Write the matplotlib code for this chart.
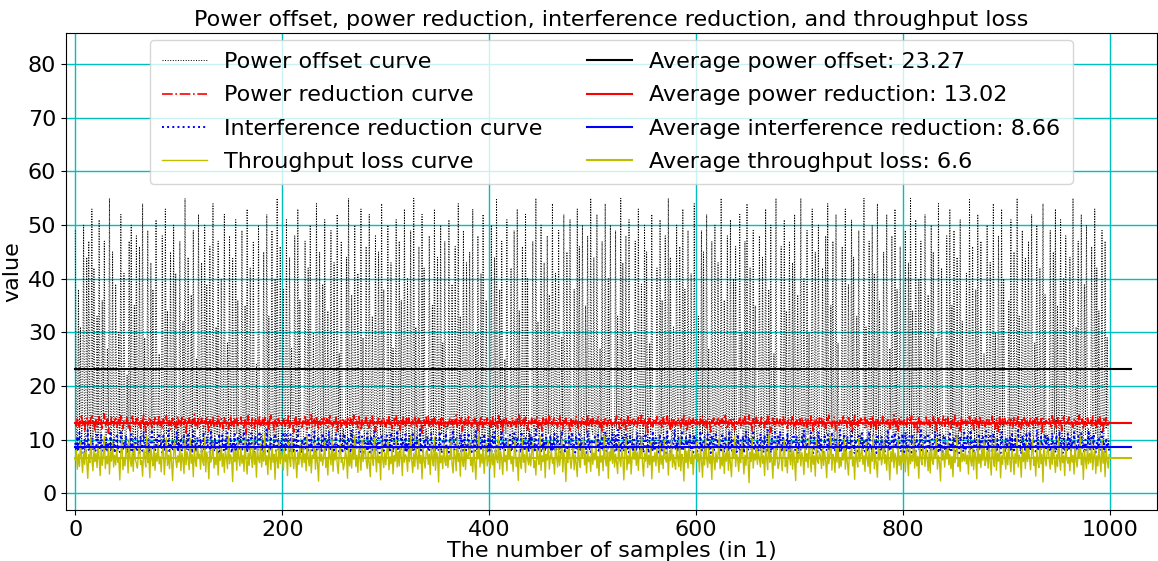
import matplotlib
matplotlib.use("Agg")
import matplotlib.pyplot as plt

power_offset = [
49,12,8,38,10,31,9,14,50,7,11,44,9,47,13,10,53,8,42,12,
10,33,9,51,11,8,36,13,47,10,9,27,12,55,8,11,45,9,10,39,
14,8,30,11,52,9,13,41,10,8,22,12,47,9,50,11,7,35,10,48,
9,13,46,8,11,54,10,29,9,12,49,7,10,43,11,38,8,14,51,9,
12,26,10,9,48,13,8,53,11,34,9,10,45,12,8,50,10,41,9,13,
8,47,11,10,32,9,55,12,8,44,10,13,37,9,49,11,8,25,12,52,
10,9,43,12,8,50,11,39,9,14,46,8,10,54,12,9,31,11,47,8,
13,40,9,11,52,8,10,28,12,48,9,13,44,10,8,51,11,36,9,12,
9,49,10,12,35,8,53,11,9,42,13,10,47,8,11,24,9,50,12,10,
11,8,45,9,13,52,10,33,8,12,49,11,9,40,10,55,8,13,46,9,
12,38,10,8,51,11,9,44,13,27,8,10,48,12,9,53,11,36,8,10,
9,13,47,10,8,42,12,50,9,11,30,8,14,54,10,9,45,12,8,39,
10,51,9,12,34,8,11,49,10,13,43,9,8,52,11,26,10,47,9,12,
8,11,44,9,55,12,10,37,8,13,50,9,11,41,10,8,53,12,29,9,
13,46,8,10,52,9,12,33,11,8,48,10,9,45,13,11,54,8,38,10,
9,12,50,11,8,43,10,27,9,13,51,8,11,47,10,36,9,12,53,8,
11,40,9,10,49,12,8,55,10,31,9,13,46,8,11,52,10,42,9,12,
10,8,48,13,9,35,11,53,8,10,44,12,9,50,11,28,8,47,10,13,
12,51,10,8,39,11,9,46,13,8,54,10,33,9,12,49,8,11,43,10,
8,45,12,10,53,9,11,30,8,48,10,13,41,9,52,11,8,36,12,9,
13,9,50,10,12,44,8,55,11,9,38,10,47,12,8,25,11,51,9,10,
10,42,8,13,49,11,9,53,10,34,12,8,46,9,11,52,10,40,8,12,
9,12,47,10,8,55,11,32,9,13,50,10,8,43,12,9,48,11,37,8,
12,54,9,11,41,8,10,49,13,9,29,11,52,8,10,45,12,9,51,10,
8,10,38,12,9,53,11,46,8,10,50,13,9,35,11,48,10,8,55,12,
11,44,10,8,52,9,13,27,10,47,8,12,54,11,9,40,10,50,8,13,
10,9,49,12,33,8,11,55,10,43,9,12,48,8,11,51,10,30,9,12,
13,47,8,10,53,11,9,39,12,8,50,10,45,9,13,28,11,52,8,10,
9,12,42,10,8,51,11,36,9,13,48,10,8,55,12,44,9,11,31,10,
11,50,9,12,46,8,10,53,11,38,9,12,49,10,8,41,13,9,54,11,
8,10,33,12,9,49,11,45,8,13,52,10,27,9,11,47,12,8,50,10,
12,43,10,8,55,11,9,36,13,10,48,8,11,51,9,12,40,10,46,8,
10,9,52,12,30,11,8,47,10,54,9,13,42,8,11,49,10,35,12,9,
13,48,8,10,44,12,9,53,11,8,38,10,50,9,12,26,11,55,8,10,
9,11,46,10,8,51,13,34,9,12,47,10,8,43,11,52,9,12,37,8,
11,55,10,9,40,12,8,49,11,30,9,13,53,10,8,45,12,9,50,11,
8,10,42,13,9,48,11,54,8,10,35,12,47,9,11,52,10,28,8,12,
12,46,9,11,53,8,10,39,12,9,51,11,44,8,13,33,10,49,9,11,
10,8,55,12,31,9,11,47,10,13,50,8,41,12,9,54,10,36,11,8,
13,45,10,9,52,11,8,27,12,48,10,9,53,11,38,8,12,46,10,9,
9,12,49,8,10,43,11,55,9,34,12,8,51,10,13,40,9,47,11,8,
11,52,10,12,37,9,8,50,11,45,10,13,29,9,54,12,8,42,10,11,
8,9,48,11,10,53,12,35,8,49,10,11,44,9,13,51,10,32,8,12,
12,41,10,9,55,8,11,46,13,10,38,9,52,11,8,47,10,12,26,9,
10,50,8,12,43,11,9,54,10,30,12,8,48,11,9,53,10,40,13,8,
9,11,36,10,51,8,12,45,9,11,55,10,33,8,12,49,9,11,44,10,
13,47,9,8,52,11,10,28,12,50,9,11,42,8,13,54,10,37,9,11,
8,12,49,10,9,45,11,53,8,35,12,10,51,9,11,40,8,48,12,10,
11,44,8,13,55,10,9,31,11,47,8,12,52,10,9,39,11,50,8,12,
10,9,46,12,8,53,11,42,9,34,10,13,49,8,11,47,12,29,9,10,
]

power_reduction = [
13.2,12.6,14.1,13.0,12.3,13.8,14.6,12.9,13.4,11.8,13.1,14.0,12.7,13.5,12.2,13.9,14.4,12.8,13.3,11.5,
13.7,12.4,13.0,14.3,12.9,13.6,12.1,13.2,14.8,12.5,13.1,13.9,11.2,13.4,12.8,14.2,13.0,12.6,13.5,14.0,
12.3,13.1,13.8,12.7,14.5,13.2,12.0,13.6,12.9,13.3,14.1,12.4,13.0,11.7,13.5,14.3,12.8,13.2,12.5,13.9,
14.0,12.7,13.3,12.2,13.8,13.1,14.6,12.9,11.4,13.4,12.6,13.7,14.2,13.0,12.3,13.5,12.8,14.1,13.2,12.5,
13.1,14.3,12.6,13.4,12.0,13.9,13.2,12.7,14.5,13.0,12.4,13.6,11.9,13.3,14.0,12.8,13.1,12.2,13.7,14.4,
12.9,13.5,12.3,14.2,13.0,12.6,13.8,11.3,13.4,12.9,14.1,13.2,12.5,13.6,13.0,14.7,12.7,13.3,12.1,13.9,
13.6,12.8,14.0,13.1,12.4,13.5,12.9,14.3,13.0,11.6,13.7,12.6,13.2,14.2,12.3,13.4,13.0,12.7,14.5,13.1,
12.5,13.9,13.2,12.0,14.1,13.3,12.8,13.6,11.9,13.0,14.4,12.7,13.5,12.4,13.8,13.1,14.0,12.6,13.2,12.9,
14.2,12.9,13.4,12.3,13.7,11.1,13.2,14.5,12.8,13.0,12.5,13.9,13.3,12.1,14.0,13.5,12.7,13.1,14.3,12.6,
13.0,13.8,12.4,14.1,13.2,12.7,13.5,12.0,13.9,14.6,12.8,13.3,11.8,13.6,13.0,12.5,14.2,13.4,12.9,13.1,
12.7,14.0,13.3,12.5,13.8,13.0,14.4,12.2,13.5,12.9,13.1,11.4,13.7,14.2,12.6,13.4,12.8,13.9,13.2,12.3,
13.5,12.8,14.3,13.1,12.0,13.6,12.9,13.3,14.7,12.4,13.0,13.8,12.6,14.1,13.2,11.9,13.5,12.7,13.9,13.0,
14.1,12.6,13.2,13.9,12.3,13.4,14.5,12.8,13.1,12.5,13.7,13.0,14.2,11.6,13.3,12.9,13.8,12.4,13.6,14.0,
12.8,13.4,12.1,14.0,13.3,12.7,13.9,13.1,12.4,14.6,13.2,12.9,13.5,12.2,14.3,13.0,11.7,13.6,12.8,13.4,
13.3,14.2,12.7,13.0,12.2,13.8,13.4,14.4,12.6,13.1,11.5,13.7,12.9,14.0,13.3,12.5,13.6,13.0,14.1,12.8,
12.4,13.6,13.1,14.3,12.8,13.5,12.0,13.2,13.9,12.6,14.5,13.0,12.7,13.4,11.8,13.8,12.9,14.2,13.1,12.5,
13.9,12.7,14.1,13.3,12.3,13.0,13.6,12.9,14.4,13.2,12.1,13.5,14.0,12.8,13.4,11.3,13.1,13.7,12.6,14.2,
13.0,14.5,12.5,13.4,12.9,13.8,12.2,14.1,13.3,12.7,13.6,13.1,11.9,13.9,12.8,14.3,13.0,12.4,13.5,13.2,
12.6,13.3,14.0,12.8,13.7,12.1,13.5,13.0,14.6,12.5,13.2,13.8,12.9,14.1,11.6,13.4,12.7,13.9,13.1,12.3,
14.3,12.9,13.2,12.4,13.8,13.1,14.0,12.6,13.5,11.7,13.3,12.8,14.4,13.0,12.2,13.7,13.4,12.9,14.1,13.2,
12.8,13.5,12.3,14.2,13.0,12.7,13.9,13.3,12.1,14.5,13.1,12.6,13.6,11.4,13.8,12.9,14.0,13.2,12.5,13.4,
13.7,12.4,14.1,13.0,12.8,13.5,12.0,13.9,13.2,14.6,12.7,13.4,12.9,13.8,12.3,14.2,13.1,11.8,13.6,13.0,
12.9,14.0,13.3,12.5,13.7,13.1,14.3,12.2,13.6,12.8,13.0,11.5,14.1,13.4,12.6,13.9,13.2,12.4,14.4,13.0,
13.4,12.7,13.8,14.2,12.9,13.1,12.3,13.6,14.5,12.8,13.3,12.0,13.9,13.1,14.0,12.6,13.5,12.9,11.7,13.8,
12.5,13.9,13.1,12.8,14.3,13.4,12.1,13.7,13.0,12.6,14.1,13.2,12.9,13.5,11.9,14.4,12.7,13.3,13.8,12.4,
14.0,13.2,12.6,13.5,12.9,14.4,13.1,12.3,13.8,11.6,13.4,12.8,14.2,13.0,12.5,13.6,13.3,14.1,12.7,13.0,
13.1,12.4,13.7,14.5,12.8,13.3,12.0,13.9,13.2,12.6,14.0,13.5,11.8,13.1,14.3,12.7,13.6,12.9,13.4,14.1,
12.7,13.6,13.0,12.2,14.2,13.4,12.8,14.6,13.1,12.5,13.7,12.9,13.3,11.3,13.8,14.0,12.6,13.2,12.4,13.9,
13.8,12.9,14.3,13.1,12.6,13.5,13.0,12.1,14.1,13.3,12.7,13.6,14.4,12.8,13.2,11.9,13.7,12.5,14.0,13.1,
12.6,13.4,12.9,14.0,13.2,12.3,13.8,13.0,14.5,12.7,13.5,11.6,13.1,14.2,12.8,13.6,12.4,13.9,13.3,12.9,
14.1,12.8,13.3,12.5,13.9,13.1,14.4,12.6,13.0,13.7,12.2,14.0,13.4,12.9,11.5,13.6,13.2,14.3,12.7,13.1,
13.0,14.2,12.7,13.6,12.4,13.9,13.2,12.8,14.5,13.1,12.0,13.5,12.9,14.1,13.3,12.6,13.8,11.8,13.4,13.0,
12.9,13.5,14.0,12.3,13.1,13.7,12.6,14.3,13.0,12.8,13.4,14.6,12.5,13.2,11.7,13.9,13.0,12.4,14.2,13.3,
13.6,12.5,13.2,14.1,12.9,13.0,12.2,13.8,13.4,14.4,12.7,13.1,11.4,13.5,14.0,12.8,13.3,12.6,13.9,13.2,
12.4,13.8,13.0,12.7,14.3,13.3,12.9,13.6,12.1,14.0,13.2,12.8,13.5,14.5,12.6,13.1,11.9,13.7,13.0,12.5,
13.9,12.8,14.2,13.1,12.5,13.4,14.0,12.3,13.7,13.0,12.9,14.4,13.2,11.6,13.5,12.7,13.8,13.1,12.4,14.1,
13.2,14.0,12.6,13.5,13.0,12.1,13.9,13.3,14.6,12.8,13.1,12.4,13.6,14.2,12.9,11.8,13.4,13.0,12.7,13.8,
12.7,13.1,14.3,12.9,13.6,13.2,12.3,14.1,13.4,12.6,13.8,11.5,13.0,14.5,12.8,13.3,12.5,13.9,13.1,14.0,
13.5,12.9,13.3,14.2,12.4,13.7,13.0,12.8,13.9,12.2,14.4,13.1,12.6,13.5,11.9,14.0,13.2,12.7,13.6,13.0,
14.4,13.0,12.5,13.4,12.9,14.1,13.3,12.0,13.8,13.1,12.7,14.6,13.2,12.4,13.5,11.7,13.9,12.8,14.2,13.1,
12.8,13.7,13.1,12.3,14.0,13.4,12.9,13.6,14.5,12.6,13.0,12.2,13.8,13.3,11.4,14.1,12.7,13.5,13.0,12.9,
13.3,12.6,14.2,13.0,12.8,13.9,12.4,13.5,13.1,14.3,12.7,13.6,11.8,13.2,14.0,12.9,13.4,12.5,13.7,14.4,
12.5,13.8,13.0,14.1,12.7,13.3,12.1,13.9,13.2,12.8,14.6,13.0,12.4,13.5,13.1,11.6,14.2,12.9,13.6,13.2,
13.9,12.7,13.4,12.9,14.3,13.1,12.6,13.7,11.9,13.3,14.0,12.8,13.5,12.2,14.5,13.0,12.9,13.8,13.2,12.4,
13.1,14.1,12.8,13.6,12.5,13.2,14.4,12.9,13.4,12.0,13.7,13.1,11.5,14.2,12.7,13.3,13.9,12.6,14.0,13.0,
12.9,13.4,14.0,12.6,13.8,13.0,12.3,14.3,13.2,12.8,13.5,14.6,12.4,13.1,11.8,13.7,12.9,14.1,13.3,12.7,
13.6,12.5,13.2,14.2,12.9,13.5,12.1,13.8,13.0,14.4,12.7,13.3,12.6,13.9,11.4,14.0,13.1,12.8,13.6,13.2,
12.8,13.9,13.1,12.4,14.5,13.3,12.7,13.6,12.2,14.1,13.0,12.9,13.8,11.7,13.4,14.3,12.6,13.2,12.9,13.5,
14.2,12.9,13.5,13.0,12.3,13.7,14.0,12.8,13.3,12.5,14.6,13.1,12.7,13.9,11.9,13.4,13.0,12.4,14.1,13.2,
13.0,13.6,12.6,14.3,13.1,12.8,13.4,12.0,13.9,13.2,14.5,12.7,13.3,11.6,13.8,12.9,14.0,13.1,12.5,13.4,
]

interference_reduction = [
9.4,7.8,10.6,8.2,11.3,8.9,7.5,9.8,8.4,10.1,7.9,8.7,11.8,8.1,9.2,7.6,10.4,8.5,9.0,7.7,
8.3,10.9,7.4,9.5,8.0,11.1,8.6,7.8,9.9,8.2,10.5,7.6,9.1,8.8,11.6,7.9,8.4,10.2,7.5,9.3,
10.7,8.1,9.0,7.7,11.4,8.5,7.9,9.6,8.3,10.8,7.5,8.9,9.7,8.0,11.0,7.6,9.4,8.6,10.3,7.8,
8.2,9.8,7.6,10.6,8.4,7.9,11.5,8.7,9.2,7.5,10.1,8.3,7.8,9.5,11.9,8.0,8.8,7.7,10.4,9.0,
7.9,11.2,8.5,9.3,7.6,10.7,8.1,9.9,7.8,8.6,11.7,7.5,9.4,8.2,10.0,7.9,9.1,8.4,11.3,7.7,
9.6,8.0,10.3,7.8,8.9,11.0,7.6,9.5,8.3,10.9,7.9,8.5,9.8,7.5,11.6,8.1,9.2,7.7,10.5,8.6,
8.4,10.1,7.7,9.3,11.4,8.2,7.9,10.6,8.7,9.0,7.5,11.8,8.3,9.7,7.8,10.2,8.0,9.4,7.6,11.1,
7.8,9.1,10.8,8.5,7.6,9.9,8.1,11.3,7.9,8.8,10.4,7.5,9.6,8.2,11.0,7.7,8.6,10.7,8.0,9.2,
10.5,7.9,8.7,11.6,8.0,9.4,7.6,10.0,8.4,7.8,11.2,8.9,9.5,7.5,10.8,8.2,7.9,9.8,11.5,8.3,
8.1,9.7,7.7,10.3,8.6,11.9,7.8,9.0,8.3,10.6,7.5,9.3,8.8,11.1,7.9,8.5,10.2,7.6,9.6,8.0,
9.2,11.4,8.0,7.6,10.9,8.7,9.5,7.8,11.0,8.2,9.9,7.5,10.4,8.6,7.9,11.7,8.3,9.1,7.7,10.1,
7.9,8.8,10.7,8.1,9.4,7.6,11.3,8.5,10.0,7.8,8.9,11.5,8.2,7.5,9.7,10.6,8.0,9.3,7.9,11.2,
8.6,10.2,7.7,9.8,8.3,11.6,7.9,9.0,10.5,8.1,7.6,9.6,11.0,8.4,9.2,7.8,10.8,8.7,7.5,9.5,
11.1,8.0,9.3,7.8,10.4,8.6,7.5,11.8,8.2,9.7,7.9,10.1,8.5,9.0,11.4,7.7,8.8,10.6,8.1,7.6,
9.4,7.9,11.2,8.3,9.9,7.6,10.7,8.0,8.9,11.5,7.8,9.2,8.4,10.3,7.5,9.6,11.0,8.2,7.9,10.0,
8.5,10.8,7.7,9.1,8.0,11.3,8.7,7.6,10.2,9.4,7.9,11.7,8.3,9.0,7.5,10.5,8.6,9.8,7.8,11.0,
7.6,9.5,8.2,10.9,7.9,8.8,11.4,8.1,9.7,7.5,10.4,8.5,7.8,11.9,8.0,9.3,7.7,10.1,8.9,9.6,
10.6,8.3,7.8,9.9,11.1,8.0,9.2,7.6,10.7,8.4,9.0,7.9,11.5,8.6,7.5,10.0,9.4,8.1,11.2,7.7,
8.9,7.6,10.3,8.2,9.6,11.8,7.9,8.7,10.5,7.5,9.1,8.4,11.0,7.8,9.8,8.0,10.9,7.6,8.5,9.3,
11.3,8.1,9.5,7.7,10.1,8.6,7.9,11.6,8.3,9.2,7.5,10.8,8.0,9.7,7.8,11.1,8.8,9.0,7.6,10.4,
8.0,9.9,7.5,10.6,8.5,11.4,7.8,9.3,8.2,10.0,7.9,8.9,11.7,8.4,9.6,7.6,10.2,8.7,9.1,7.7,
10.9,7.8,8.6,9.4,11.2,8.1,7.6,10.5,8.8,9.0,7.5,11.5,8.3,9.8,7.9,10.3,8.0,9.5,7.7,11.0,
8.4,10.7,7.9,9.2,8.0,11.9,8.6,7.7,10.1,9.3,7.5,11.3,8.2,9.7,7.8,10.4,8.9,7.6,9.0,10.8,
7.7,9.6,8.3,11.1,7.9,8.5,10.6,8.0,9.4,7.6,11.6,8.7,9.1,7.8,10.0,8.2,7.5,10.9,8.4,9.9,
11.4,8.0,9.3,7.6,10.8,8.5,7.8,11.0,8.1,9.7,7.9,10.3,8.8,9.2,7.5,11.7,8.3,9.5,7.7,10.1,
8.6,9.0,10.5,7.8,8.2,11.3,7.6,9.8,8.4,10.7,7.9,9.1,11.5,8.0,7.7,10.2,8.9,9.6,7.5,11.0,
9.3,7.9,10.9,8.1,11.8,8.6,7.5,9.5,8.3,10.4,7.8,8.8,11.1,8.0,9.9,7.6,10.6,8.5,9.2,7.7,
10.0,8.2,7.7,11.4,8.7,9.4,7.9,10.8,8.1,7.6,9.7,11.2,8.4,9.0,7.5,10.5,8.6,7.8,11.6,8.3,
7.9,10.3,8.5,9.1,7.6,11.0,8.0,9.8,7.8,10.6,8.9,7.5,11.5,8.2,9.5,7.7,10.1,8.4,9.3,11.9,
8.1,9.6,7.7,10.7,8.6,7.9,11.3,8.3,9.2,7.5,10.4,8.8,9.9,7.8,11.1,8.0,9.4,7.6,10.9,8.5,
10.2,7.8,9.0,8.4,11.6,7.6,9.7,8.1,10.5,7.9,8.7,11.0,8.2,9.3,7.5,10.8,8.5,7.7,9.6,11.4,
8.3,10.1,7.9,9.5,8.0,11.2,8.8,7.6,10.6,8.5,9.1,7.8,11.7,8.1,9.8,7.5,10.3,8.6,9.4,7.7,
11.0,8.6,7.8,9.9,8.2,10.7,7.5,9.2,11.5,8.0,7.9,10.4,8.7,9.6,7.6,11.3,8.3,9.0,7.8,10.0,
7.8,9.3,11.1,8.1,9.7,7.6,10.9,8.4,7.9,11.8,8.6,9.5,7.5,10.2,8.0,9.1,11.4,7.7,8.8,10.6,
9.0,11.6,8.2,7.7,10.3,8.9,9.4,7.8,11.2,8.0,10.0,7.6,9.8,8.5,11.0,7.9,8.3,10.7,7.5,9.2,
8.7,7.9,10.5,8.3,11.7,7.6,9.1,8.5,10.1,7.8,9.6,11.3,8.0,7.5,10.8,8.8,9.3,7.7,11.5,8.2,
10.4,8.0,9.2,7.6,11.0,8.6,7.9,10.9,8.2,9.7,7.5,11.4,8.4,9.0,7.8,10.2,8.7,9.5,7.6,11.8,
7.7,9.8,8.5,11.1,7.9,8.3,10.6,8.0,9.4,7.6,11.6,8.8,9.1,7.5,10.0,8.2,7.8,10.7,8.6,9.3,
11.2,8.4,9.6,7.8,10.3,8.1,7.7,11.5,8.9,9.0,7.6,10.8,8.3,9.9,7.5,11.0,8.5,9.2,7.9,10.5,
8.2,10.0,7.6,9.7,8.7,11.9,7.9,9.3,8.0,10.6,7.8,9.1,11.3,8.4,9.5,7.5,10.4,8.6,7.7,11.1,
9.8,7.7,11.4,8.3,9.0,7.9,10.7,8.5,7.6,11.0,8.1,9.6,7.8,10.2,8.8,9.4,7.5,11.7,8.0,9.2,
8.0,10.5,8.6,7.8,11.2,8.2,9.7,7.6,10.1,8.9,7.9,11.6,8.4,9.3,7.5,10.9,8.1,9.0,7.7,10.3,
10.8,8.3,7.9,9.5,8.0,11.5,7.6,9.1,8.7,10.4,7.8,9.9,11.0,8.2,7.5,10.6,8.5,9.4,7.7,11.3,
7.9,9.2,10.9,8.4,7.6,11.8,8.1,9.6,7.8,10.2,8.8,9.0,7.5,11.1,8.3,9.7,7.7,10.5,8.6,9.4,
11.6,8.0,9.3,7.7,10.7,8.5,7.9,11.2,8.2,9.8,7.6,10.0,8.9,9.1,7.5,11.4,8.4,9.5,7.8,10.3,
8.5,9.9,7.8,10.6,8.1,11.0,8.7,7.6,10.4,9.2,7.9,11.7,8.3,9.0,7.5,10.8,8.6,9.6,7.7,11.3,
9.1,7.6,11.5,8.2,9.7,7.9,10.1,8.6,7.8,11.9,8.0,9.4,7.5,10.5,8.8,9.3,7.7,11.0,8.4,9.8,
10.6,8.4,7.7,9.0,11.3,8.0,9.5,7.6,10.9,8.3,7.9,11.6,8.7,9.2,7.5,10.2,8.1,9.7,7.8,11.1,
8.3,10.4,7.9,9.6,8.5,11.4,7.7,9.1,8.0,10.7,7.6,9.8,11.2,8.2,9.3,7.5,10.0,8.9,7.8,11.7,
9.5,7.8,10.8,8.1,11.1,8.6,7.6,9.4,8.3,10.5,7.9,9.0,11.5,8.0,9.7,7.5,10.3,8.7,9.2,7.7,
]

throughput_loss = [
6.2,8.1,4.5,7.3,5.0,9.6,6.8,3.9,7.7,5.4,8.9,6.1,2.8,7.2,5.7,10.3,6.4,4.2,8.0,5.9,
7.5,4.8,9.1,6.6,3.3,8.4,5.2,7.0,10.6,4.6,6.9,5.5,8.7,3.6,7.8,6.0,9.4,4.9,7.1,5.3,
8.3,5.8,6.5,2.5,7.9,9.8,4.4,6.7,5.1,8.6,7.4,3.8,10.1,6.2,5.0,7.6,4.1,9.2,6.3,5.6,
4.7,7.7,9.5,5.4,6.1,3.2,8.2,6.9,4.9,10.8,5.7,7.3,2.9,8.8,6.4,5.1,9.0,4.3,7.5,6.0,
9.3,5.5,6.8,4.0,7.9,8.5,3.5,6.6,10.4,5.2,7.1,4.6,8.1,5.9,2.4,7.4,9.7,6.3,4.8,7.0,
5.8,8.7,4.2,7.5,6.2,3.7,9.9,5.3,7.8,6.5,4.4,10.2,5.6,7.2,3.1,8.4,6.0,5.0,9.1,6.7,
7.3,4.5,8.9,6.0,5.2,10.5,4.0,7.7,6.4,2.7,8.2,5.8,7.0,9.4,4.7,6.6,5.3,8.8,3.4,7.6,
6.1,9.2,5.0,7.4,3.9,8.0,6.7,4.6,10.7,5.5,7.2,6.3,2.2,8.6,5.9,7.9,4.3,9.6,6.5,5.1,
8.5,5.6,7.1,4.1,9.8,6.2,3.6,7.5,5.2,8.9,6.8,4.8,10.0,5.4,7.7,3.0,8.3,6.4,5.7,9.3,
4.9,7.6,6.0,10.9,5.3,7.0,3.5,8.7,6.6,4.4,9.1,5.8,7.3,2.6,8.1,6.2,4.7,9.7,5.5,7.8,
6.9,4.3,8.4,5.9,7.2,3.3,9.5,6.4,5.0,10.3,7.0,4.6,8.0,6.1,2.9,7.7,5.4,9.0,6.6,4.9,
8.8,5.7,7.4,4.2,10.6,6.3,5.1,8.2,3.8,7.1,6.7,9.4,4.5,7.9,5.6,2.3,8.6,6.0,7.3,5.2,
7.0,9.7,4.8,6.5,3.4,8.5,6.9,5.3,10.1,4.1,7.6,6.2,8.9,5.5,3.7,7.3,9.2,5.8,6.4,4.4,
5.6,8.0,6.8,2.8,9.3,5.1,7.5,4.7,8.7,6.3,10.8,5.0,7.1,3.9,8.3,6.6,4.3,9.9,5.9,7.4,
9.0,6.1,4.6,7.8,5.4,3.1,8.6,6.7,5.2,10.4,7.2,4.0,8.1,5.7,6.9,2.5,9.5,6.3,4.8,7.6,
5.3,7.9,9.6,4.4,6.8,5.5,8.3,3.6,7.0,6.0,10.0,4.9,7.7,5.1,8.8,6.5,3.3,9.1,5.8,7.2,
6.7,4.1,8.2,5.9,10.7,6.2,3.9,7.4,5.0,8.9,6.6,4.5,9.8,5.6,7.1,2.7,8.4,6.1,4.7,7.8,
8.1,5.4,7.3,3.5,9.2,6.4,5.1,10.5,4.3,7.6,6.8,2.1,8.7,5.7,7.0,4.6,9.4,6.0,5.2,8.5,
4.8,7.1,6.3,9.7,5.5,3.8,8.0,6.9,4.2,10.2,5.9,7.5,3.2,8.6,6.1,5.0,9.0,4.4,7.7,6.5,
7.2,9.5,5.2,6.6,4.0,8.3,5.8,2.6,7.9,6.4,10.9,4.9,7.3,5.6,8.8,3.7,6.7,9.3,5.1,7.0,
6.0,4.7,8.6,5.3,7.4,3.0,9.1,6.5,5.7,10.6,4.5,7.8,6.2,3.5,8.5,5.9,7.1,4.2,9.8,6.3,
8.4,5.5,6.9,4.1,7.6,9.9,5.0,6.7,2.4,8.1,6.0,4.6,10.3,5.8,7.2,3.9,8.9,6.4,5.3,7.5,
5.1,7.7,9.4,4.8,6.1,3.4,8.2,6.6,5.4,10.7,4.3,7.0,5.9,8.7,2.9,7.3,6.2,9.6,4.5,6.8,
7.9,5.6,6.4,3.6,9.0,6.9,4.9,8.4,5.2,7.1,10.1,4.0,7.6,6.3,2.2,8.0,5.7,9.2,6.5,4.6,
6.6,8.8,4.4,7.2,5.5,3.1,9.7,6.0,4.8,8.5,6.7,10.4,5.3,7.4,3.8,8.1,5.9,6.8,4.1,9.3,
5.4,7.5,6.2,9.8,4.7,6.9,3.3,8.3,5.8,7.0,4.2,10.8,6.4,5.1,8.6,2.8,7.7,6.1,9.1,5.6,
8.7,4.9,7.3,5.7,3.7,9.4,6.3,5.0,8.1,6.8,2.5,7.6,10.2,4.4,7.0,5.5,8.9,3.6,6.6,7.8,
6.3,9.1,5.2,7.7,4.3,8.0,6.5,10.6,5.6,3.2,7.4,6.0,8.8,4.8,7.1,5.3,9.6,2.7,6.9,5.9,
7.6,5.1,8.5,6.2,3.9,9.3,5.4,7.0,4.6,10.0,6.7,5.8,8.2,3.4,7.5,6.1,9.9,4.9,7.2,5.6,
4.5,8.3,6.8,5.0,10.5,4.2,7.3,6.4,2.3,8.7,5.7,7.9,4.7,9.2,6.0,5.5,8.0,3.5,7.1,6.6,
9.6,5.9,7.4,4.0,8.6,6.2,3.0,7.8,5.3,10.3,6.5,4.8,8.4,5.6,7.0,2.6,9.0,6.3,4.4,7.7,
5.8,7.2,10.1,4.6,6.7,5.1,8.9,3.7,7.5,6.0,9.5,4.3,7.9,5.5,3.1,8.2,6.6,10.7,5.0,7.3,
6.4,4.1,8.0,5.7,9.7,6.9,3.6,7.1,5.2,8.8,6.1,2.0,7.7,5.9,10.2,4.7,7.4,6.2,8.5,5.4,
7.8,6.3,4.9,9.4,5.6,7.0,3.3,8.6,6.5,4.4,10.9,5.8,7.5,6.1,2.8,8.3,5.2,9.1,6.8,4.6,
5.5,8.9,6.6,4.2,7.3,10.0,5.0,6.4,3.8,8.1,7.2,5.3,9.6,4.5,7.9,6.0,2.4,8.7,5.7,7.1,
8.2,5.1,7.6,6.3,3.5,9.2,5.9,7.4,4.8,10.4,6.7,4.0,8.5,5.4,7.0,3.2,9.8,6.1,5.6,7.7,
6.9,4.6,9.0,5.2,7.8,6.0,2.9,8.4,5.5,7.1,10.6,4.3,7.3,6.6,3.9,8.8,5.8,9.5,4.7,6.5,
5.0,7.5,6.2,10.1,4.5,8.0,5.7,3.4,7.7,6.4,9.3,5.1,6.8,2.6,8.6,6.3,4.9,10.3,5.9,7.2,
8.6,5.4,7.0,4.1,9.5,6.5,5.0,8.1,3.7,7.6,6.0,10.8,4.6,7.3,5.6,3.0,8.9,6.2,7.9,5.3,
6.7,9.9,5.6,7.2,4.3,8.4,6.1,2.5,7.8,5.9,9.0,4.8,7.5,6.4,3.6,10.0,5.2,7.0,4.4,8.2,
5.7,7.4,4.0,8.7,6.3,3.3,9.6,5.5,7.1,6.0,10.5,4.7,8.0,5.1,6.9,2.8,8.5,6.6,5.3,9.2,
7.3,5.0,8.9,6.5,4.2,7.7,3.8,9.4,6.1,5.4,8.2,6.8,10.2,4.5,7.0,5.8,2.3,8.6,6.2,7.5,
4.9,8.1,6.4,9.8,5.3,7.2,4.6,6.9,3.1,8.8,5.7,7.6,10.7,5.0,6.6,4.1,9.1,5.9,7.4,6.0,
8.0,5.5,7.1,3.6,9.3,6.2,5.1,8.5,4.4,7.8,6.7,2.7,10.0,5.6,7.3,4.8,8.4,6.1,9.7,5.2,
6.2,7.9,4.7,8.6,5.8,3.4,9.0,6.6,5.0,10.4,4.3,7.5,6.0,8.3,2.9,7.0,5.4,9.5,6.8,4.5,
7.7,5.3,9.2,6.1,4.0,8.0,6.9,3.5,7.4,5.6,10.6,4.9,7.1,6.4,3.0,8.7,5.9,7.6,4.6,9.4,
5.9,8.4,6.3,4.4,7.6,10.1,5.2,6.8,3.2,8.2,6.0,4.8,9.6,5.5,7.3,2.1,8.9,6.5,5.1,7.8,
8.8,6.1,4.5,7.9,5.4,9.1,6.6,3.9,7.2,5.0,10.3,6.2,4.3,8.5,5.7,7.0,3.3,9.7,6.4,5.6,
6.5,4.2,8.3,5.8,7.1,3.6,9.4,6.0,4.9,8.1,6.7,10.8,5.3,7.5,2.6,8.0,6.3,4.6,9.0,5.5,
7.4,5.7,9.8,4.4,6.9,8.2,3.7,7.0,5.1,8.7,6.2,4.0,10.0,5.6,7.8,3.1,8.5,6.1,4.7,7.2,
]

avg_power_offset = 23.27
avg_power_reduction = 13.02
avg_interference_reduction = 8.66
avg_throughput_loss = 6.6
avg_x_end = 1020

samples = list(range(len(power_offset)))

fig = plt.figure(figsize=(11.58, 5.61), dpi=100)
ax = fig.add_axes([0.057, 0.091, 0.942, 0.850])

ax.plot(samples, power_offset, color='k', linestyle=':', linewidth=0.7,
        label='Power offset curve')
ax.plot(samples, power_reduction, color='r', linestyle='-.', linewidth=1.2,
        label='Power reduction curve')
ax.plot(samples, interference_reduction, color='b', linestyle=':', linewidth=1.4,
        label='Interference reduction curve')
ax.plot(samples, throughput_loss, color='y', linestyle='-', linewidth=1.0,
        label='Throughput loss curve')

ax.plot([0, avg_x_end], [avg_power_offset] * 2, color='k', linewidth=1.5,
        label=f'Average power offset: {avg_power_offset}')
ax.plot([0, avg_x_end], [avg_power_reduction] * 2, color='r', linewidth=1.5,
        label=f'Average power reduction: {avg_power_reduction}')
ax.plot([0, avg_x_end], [avg_interference_reduction] * 2, color='b', linewidth=1.5,
        label=f'Average interference reduction: {avg_interference_reduction}')
ax.plot([0, avg_x_end], [avg_throughput_loss] * 2, color='y', linewidth=1.5,
        label=f'Average throughput loss: {avg_throughput_loss}')

ax.set_xlim(-9, 1045)
ax.set_ylim(-3.1, 85.8)
ax.set_xticks([0, 200, 400, 600, 800, 1000])
ax.set_yticks([0, 10, 20, 30, 40, 50, 60, 70, 80])
ax.tick_params(labelsize=16)
ax.grid(True, color='c', linewidth=1.0)

ax.set_title('Power offset, power reduction, interference reduction, and throughput loss',
             fontsize=16, pad=5)
ax.set_xlabel('The number of samples (in 1)', fontsize=16, labelpad=1)
ax.set_ylabel('value', fontsize=16, labelpad=4)

ax.legend(loc='upper center', ncol=2, fontsize=16, labelspacing=0.6,
          borderpad=0.55, borderaxespad=0.3)

fig.savefig('out.png', dpi=100)
